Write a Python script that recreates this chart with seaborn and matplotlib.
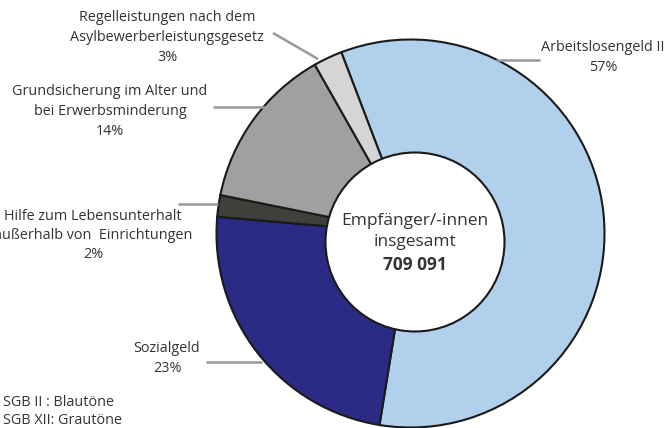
import matplotlib
matplotlib.use("Agg")
import matplotlib.pyplot as plt
from matplotlib.patches import Circle
import seaborn as sns

# Data (clockwise from top)
categories = ["Arbeitslosengeld II", "Sozialgeld",
              "Hilfe zum Lebensunterhalt\naußerhalb von  Einrichtungen",
              "Grundsicherung im Alter und\nbei Erwerbsminderung",
              "Regelleistungen nach dem\nAsylbewerberleistungsgesetz"]
shares = [58.3, 23.8, 1.8, 13.6, 2.4]          # wedge sizes
pct_labels = ["57%", "23%", "2%", "14%", "3%"]  # printed percentages
center_lines = ["Empfänger/-innen", "insgesamt"]
total_label = "709 091"
note_lines = ["SGB II : Blautöne", "SGB XII: Grautöne"]
colors = ["#B1D0EC", "#2B2B85", "#3F403C", "#A0A0A0", "#D5D5D5"]

sns.set_theme(style="white")
plt.rcParams['font.family'] = ['Open Sans', 'DejaVu Sans']

W, H = 666, 428
fig = plt.figure(figsize=(W / 100, H / 100), dpi=100)
ax = fig.add_axes([0, 0, 1, 1])

def Y(y):
    return H - y

cx, cy, R = 410.5, 233.5, 194
ax.pie(shares, colors=colors, startangle=110.9, counterclock=False,
       center=(cx, Y(cy)), radius=R,
       wedgeprops=dict(edgecolor="#1a1a1a", linewidth=1.5))
ax.add_patch(Circle((415, Y(242)), 89.5, facecolor="white",
                    edgecolor="#1a1a1a", linewidth=1.5, zorder=5))

ax.set_xlim(0, W)
ax.set_ylim(0, H)
ax.set_aspect("equal")
ax.axis("off")

tc = "#333333"
fs = 10.4
line_c = "#999999"

def label(x, y0, lines, step=20, ha="center", **kw):
    for i, t in enumerate(lines):
        ax.text(x, Y(y0 + i * step), t, ha=ha, va="center", fontsize=kw.get("size", fs),
                color=tc, fontweight=kw.get("weight", "normal"), zorder=7)

def leader(x0, y0, x1, y1):
    ax.plot([x0, x1], [Y(y0), Y(y1)], color=line_c, lw=1.8, zorder=1,
            solid_capstyle="butt")

# Arbeitslosengeld II
label(603, 47, categories[0].split("\n") + [pct_labels[0]])
leader(496, 60, 540, 60)
# Regelleistungen
label(167, 17, categories[4].split("\n") + [pct_labels[4]])
leader(273, 33, 318, 59)
# Grundsicherung
label(110, 91, categories[3].split("\n") + [pct_labels[3]])
leader(213, 107, 266, 107)
# Hilfe
label(93, 216, categories[2].split("\n") + [pct_labels[2]], step=19.5)
leader(178, 204, 218, 204)
# Sozialgeld
label(167, 348, categories[1].split("\n") + [pct_labels[1]])
leader(206, 362, 262, 362)

# Centre text
label(415, 221, center_lines, step=21, size=12.5)
label(415, 265, [total_label], size=12.5, weight="bold")

# Note
label(3, 402, note_lines, step=19, ha="left")

fig.savefig("out.png", dpi=100)
